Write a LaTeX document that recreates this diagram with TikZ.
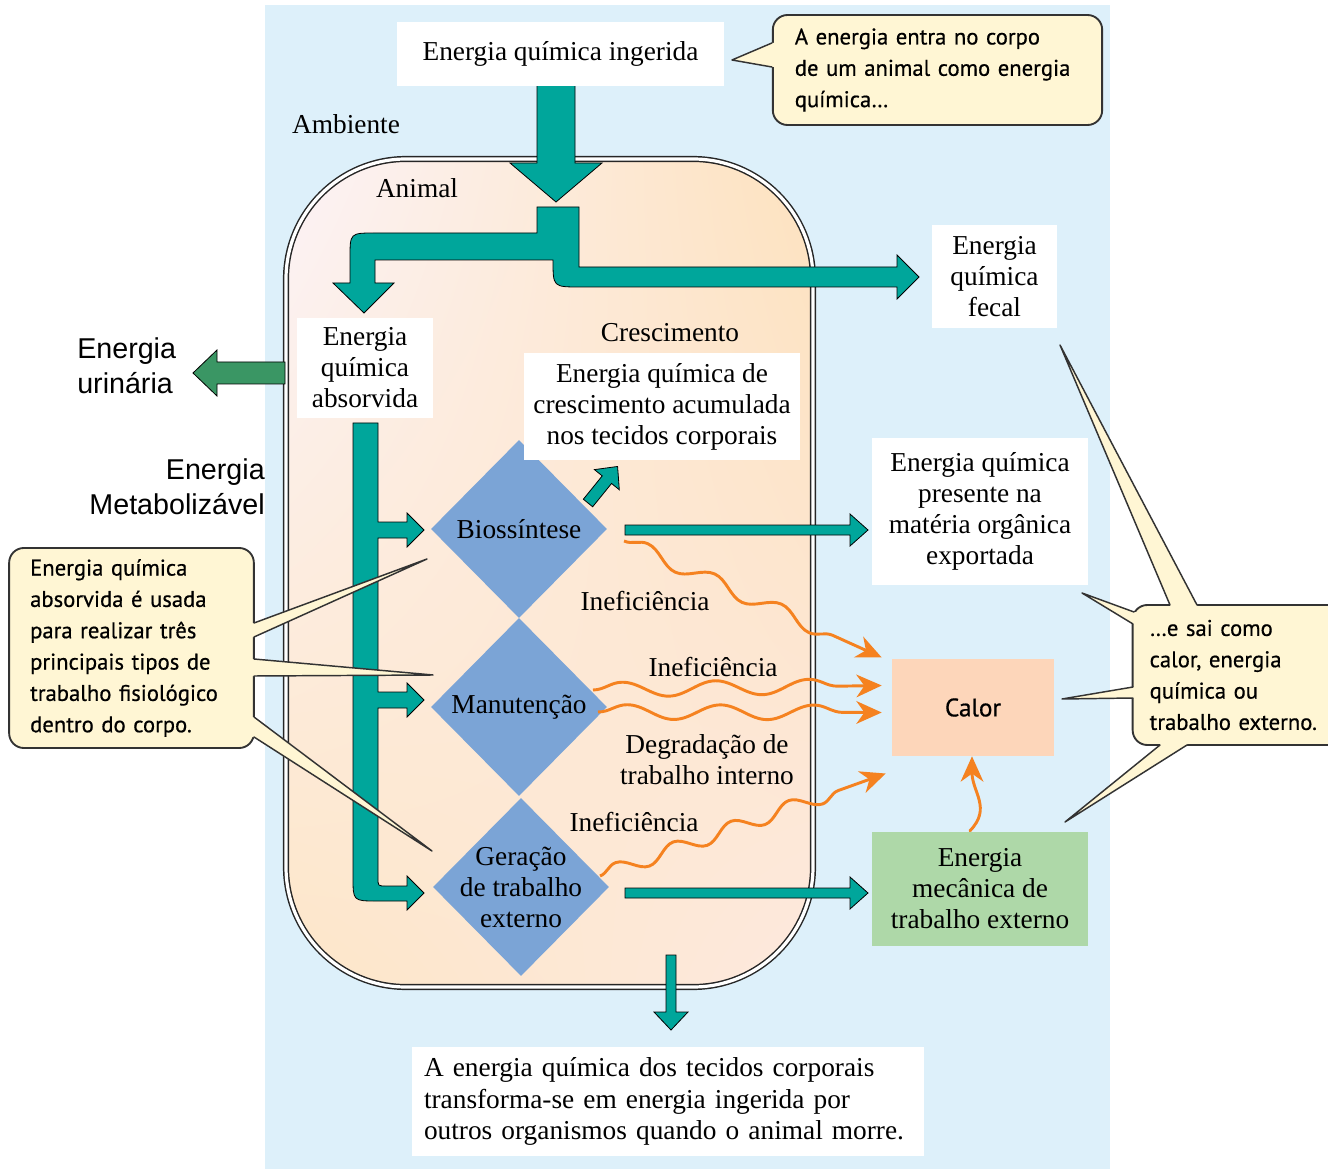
\documentclass[tikz,border=0pt]{standalone}
\usepackage{fontspec}
\setmainfont{Liberation Serif}
\newfontfamily\balaofont[FakeBold=0.6]{PT Sans}
\newfontfamily\arialfont{Liberation Sans}
\usetikzlibrary{arrows.meta,decorations.pathmorphing,shapes.geometric,shadings}
\definecolor{ceu}{RGB}{221,240,250}
\definecolor{verdeagua}{RGB}{0,166,155}
\definecolor{verdeuri}{RGB}{58,150,100}
\definecolor{losango}{RGB}{123,164,214}
\definecolor{laranja}{RGB}{245,130,32}
\definecolor{calor}{RGB}{253,214,186}
\definecolor{mecan}{RGB}{174,216,168}
\definecolor{balao}{RGB}{255,246,212}
\definecolor{corpoA}{RGB}{252,243,247}
\definecolor{corpoB}{RGB}{253,230,200}
\definecolor{corpoC}{RGB}{253,226,190}
\definecolor{corpoD}{RGB}{253,233,222}
\newcommand\txtserif{\fontsize{20.5}{23.3}\selectfont}
\newcommand\txtbalao{\balaofont\fontsize{17}{23.5}\selectfont}
\newcommand\txtarial{\arialfont\fontsize{21.5}{26}\selectfont}

\begin{document}
\begin{tikzpicture}[x=0.75pt,y=-0.75pt,line cap=round,line join=round,
  bloco/.style={fill=verdeagua,draw=black,line width=0.6pt,line join=miter},
  caixa/.style={fill=white,inner sep=0pt,font=\txtserif,align=center},
  rotulo/.style={inner sep=0pt,font=\txtserif,align=center},
  balaobox/.style={fill=balao,draw=black!80,line width=1.4pt,rounded corners=11pt,font=\txtbalao,align=left,inner ysep=0pt},
  ponta/.style={draw=black!80,line width=1.1pt},
  onda/.style={draw=laranja,line width=2.2pt,line cap=butt,decorate,decoration={snake,amplitude=5.5pt,segment length=55pt,post length=18pt},-{Stealth[length=19pt,width=17pt,inset=6pt]}},
  losangulo/.style={diamond,fill=losango,inner sep=0pt,minimum width=132pt,minimum height=133.5pt}]
\useasboundingbox (0,0) rectangle (1328,1169);
\clip (0,0) rectangle (1328,1169);
\fill[white] (0,0) rectangle (1328,1169);
\fill[ceu] (265,5) rectangle (1110,1169);
\shade[upper left=corpoA,upper right=corpoC,lower left=corpoB,lower right=corpoD,rounded corners=90pt] (285,158) rectangle (814,988);
\draw[draw=black!85,double=white,double distance=2.4pt,line width=1.1pt,rounded corners=90pt] (286,159) rectangle (813,987);
\node[inner sep=0pt,font=\txtserif] (ambiente) at (346,124) {Ambiente};
\node[inner sep=0pt,font=\txtserif] (animal) at (417,188) {Animal};
\draw[bloco] (537,85) -- (575,85) -- (575,163) -- (602,163) -- (556,202) -- (510,163) -- (537,163) -- cycle;
\draw[bloco] (537,207) -- (579,207) -- (579,267) -- (897,267) -- (897,255) -- (919,277) -- (897,299) -- (897,287) -- (580,287) .. controls (553,287) .. (553,260) -- (375,260) -- (375,283) -- (394,283) -- (364,313) -- (333,283) -- (350,283) -- (350,258) .. controls (350,233) .. (375,233) -- (537,233) -- cycle;
\draw[bloco,fill=verdeuri] (285,362) -- (217,362) -- (217,350) -- (193,373) -- (217,396) -- (217,384) -- (285,384) -- cycle;
\draw[bloco] (353,423) -- (378,423) -- (378,522) -- (407,522) -- (407,513) -- (424,530) -- (407,547) -- (407,538) -- (378,538) -- (378,692) -- (407,692) -- (407,683) -- (424,700) -- (407,717) -- (407,708) -- (378,708) -- (378,878) .. controls (378,886) .. (386,886) -- (407,886) -- (407,876) -- (424,893) -- (407,910) -- (407,901) -- (377,901) .. controls (353,901) .. (353,877) -- cycle;
\node[losangulo] (bio) at (519,529) {};
\node[losangulo] (man) at (519,707) {};
\node[losangulo] (ger) at (521,887) {};
\node[rotulo] (biotxt) at (bio) {Biossíntese};
\node[rotulo] (mantxt) at (man) {Manutenção};
\node[rotulo] (gertxt) at (ger) {Geração\\de trabalho\\externo};
\begin{scope}[shift={(588,503)},rotate=51]
\draw[bloco] (0,-6) -- (30,-6) -- (30,-16) -- (47,0) -- (30,16) -- (30,6) -- (0,6) -- cycle;
\end{scope}
\draw[bloco] (625,525) -- (850,525) -- (850,514) -- (868,530) -- (850,546) -- (850,535) -- (625,535) -- cycle;
\draw[bloco] (625,888) -- (850,888) -- (850,877) -- (868,893) -- (850,909) -- (850,898) -- (625,898) -- cycle;
\draw[bloco] (666,955) -- (676,955) -- (676,1012) -- (688,1012) -- (671,1030) -- (654,1012) -- (666,1012) -- cycle;
\node[caixa,minimum width=245.25pt,minimum height=48pt] (ingerida) at (560.5,54) {Energia química ingerida};
\node[caixa,minimum width=93.75pt,minimum height=77.25pt] (fecal) at (994.5,276.5) {Energia\\química\\fecal};
\node[caixa,minimum width=102pt,minimum height=75pt] (absorvida) at (365,368) {Energia\\química\\absorvida};
\node[rotulo] (cresc) at (670,333) {Crescimento};
\node[caixa,minimum width=207pt,minimum height=80pt] (tecidos) at (662,406.5) {Energia química de\\crescimento acumulada\\nos tecidos corporais};
\node[caixa,minimum width=162pt,minimum height=110pt] (exportada) at (980,511.5) {Energia química\\presente na\\matéria orgânica\\exportada};
\node[caixa,fill=calor,font=\balaofont\fontsize{19}{23}\selectfont,minimum width=121.5pt,minimum height=72.75pt] (calor) at (973,707.5) {Calor};
\node[caixa,fill=mecan,minimum width=162pt,minimum height=85.5pt] (mec) at (980,889) {Energia\\mecânica de\\trabalho externo};
\node[caixa,align=left,text width=366pt,inner xsep=9pt,minimum height=81.75pt] (morte) at (668,1101.5) {A energia química dos tecidos corporais\\transforma-se em energia ingerida por\\outros organismos quando o animal morre.};
\node[inner sep=0pt,font=\txtarial,align=left,anchor=west] (urina) at (77,366) {Energia\\urinária};
\node[inner sep=0pt,font=\txtarial,align=right,anchor=east] (metab) at (265,487) {Energia\\Metabolizável};
\node[rotulo] (inef1) at (645,601) {Ineficiência};
\node[rotulo] (inef2) at (713,667) {Ineficiência};
\node[rotulo] (inef3) at (634,822) {Ineficiência};
\node[rotulo] (degrad) at (707,760) {Degradação de\\trabalho interno};
\draw[onda] ([shift={(105,12)}]bio.center) -- ([shift={(-10,-50)}]calor.west);
\draw[onda,decoration={segment length=70pt}] ([shift={(74,-17)}]man.center) -- ([shift={(-10,-22)}]calor.west);
\draw[onda,decoration={segment length=70pt}] ([shift={(79,5)}]man.center) -- ([shift={(-10,5)}]calor.west);
\draw[onda,decoration={segment length=46pt}] ([shift={(79,-11)}]ger.center) -- ([shift={(-6,66)}]calor.west);
\draw[draw=laranja,line width=2.2pt,-{Stealth[length=19pt,width=17pt,inset=6pt]}] ([shift={(-10,-1)}]mec.north) .. controls (992,808) and (972,792) .. ([shift={(-1,0)}]calor.south);
\node[balaobox,text width=214pt,inner xsep=16.5pt,minimum height=82.5pt] (balao1) at (937.5,70) {A energia entra no corpo\\de um animal como energia\\química…};
\coordinate (p1) at (732,60);
\fill[balao] ([shift={(4,-27)}]balao1.west) -- ([shift={(0,-27)}]balao1.west) -- (p1) -- ([shift={(0,-3)}]balao1.west) -- ([shift={(4,-3)}]balao1.west) -- cycle;
\draw[ponta] ([shift={(0,-27)}]balao1.west) -- (p1) -- ([shift={(0,-3)}]balao1.west);
\node[balaobox,text width=152pt,inner xsep=15.75pt,minimum height=150pt] (balao2) at (131.5,648) {Energia química\\absorvida é usada\\para realizar três\\principais tipos de\\trabalho fisiológico\\dentro do corpo.};
\coordinate (p2) at (427,559);
\coordinate (p3) at (433,675);
\coordinate (p4) at (432,851);
\fill[balao] (250,623) -- (254,623) -- (p2) -- (254,637) -- (250,637) -- cycle;
\draw[ponta] (254,623) -- (p2) -- (254,637);
\fill[balao] (250,659) -- (254,659) -- (p3) -- (254,676) -- (250,676) -- cycle;
\draw[ponta] (254,659) -- (p3) -- (254,676);
\fill[balao] (249,717) -- (254,717) -- (p4) -- (254,737) -- (249,737) -- cycle;
\draw[ponta] (254,717) -- (p4) -- (254,737);
\node[balaobox,text width=170pt,inner xsep=12.75pt,minimum height=105pt] (balao3) at (1263,675) {…e sai como\\calor, energia\\química ou\\trabalho externo.};
\coordinate (p5) at (1060,345);
\coordinate (p6) at (1082,593);
\coordinate (p7) at (1062,699);
\coordinate (p8) at (1065,822);
\fill[balao] (1170,609) -- (1170,605) -- (p5) -- (1197,605) -- (1197,609) -- cycle;
\draw[ponta] (1170,605) -- (p5) -- (1197,605);
\fill[balao] (1138,612) -- (1134,612) -- (p6) -- (1133,624) -- (1137,624) -- cycle;
\draw[ponta] (1134,612) -- (p6) -- (1133,624);
\fill[balao] (1137,687) -- (1133,687) -- (p7) -- (1133,698) -- (1137,698) -- cycle;
\draw[ponta] (1133,687) -- (p7) -- (1133,698);
\fill[balao] (1160,741) -- (1160,745) -- (p8) -- (1187,745) -- (1187,741) -- cycle;
\draw[ponta] (1160,745) -- (p8) -- (1187,745);
\end{tikzpicture}
\end{document}
